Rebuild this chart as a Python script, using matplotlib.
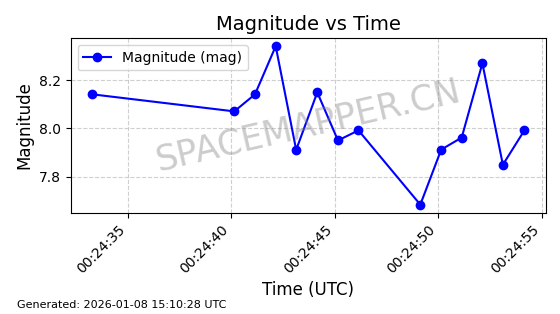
import matplotlib
matplotlib.use("Agg")
import matplotlib.pyplot as plt
import matplotlib.dates as mdates
from datetime import datetime, timedelta

# observation times (seconds after 00:24:00 UTC) and magnitudes
seconds = [33.28, 40.15, 41.15, 42.15, 43.14, 44.16, 45.16, 46.15,
           49.14, 50.15, 51.14, 52.14, 53.13, 54.17]
magnitudes = [8.142, 8.071, 8.142, 8.342, 7.911, 8.150, 7.950, 7.992,
              7.683, 7.912, 7.962, 8.271, 7.849, 7.992]

base = datetime(2026, 1, 8, 0, 24, 0)
times = [base + timedelta(seconds=s) for s in seconds]

fig, ax = plt.subplots(figsize=(5.6, 3.14), dpi=100)
ax.plot(times, magnitudes, marker='o', color='blue', markersize=6,
        linewidth=1.5, label='Magnitude (mag)')

ax.set_title('Magnitude vs Time', fontsize=14)
ax.set_xlabel('Time (UTC)', fontsize=12)
ax.set_ylabel('Magnitude', fontsize=12)
ax.grid(True, linestyle='--', alpha=0.6)
ax.legend(loc='upper left')

ax.xaxis.set_major_locator(mdates.SecondLocator(bysecond=range(0, 60, 5)))
ax.xaxis.set_major_formatter(mdates.DateFormatter('%H:%M:%S'))
plt.setp(ax.get_xticklabels(), rotation=45, ha='right')

ax.text(0.5, 0.5, 'SPACEMAPPER.CN', transform=ax.transAxes, fontsize=25,
        color='gray', alpha=0.4, rotation=13, ha='center', va='center')

fig.subplots_adjust(left=0.126, right=0.975, top=0.878, bottom=0.323)
fig.text(0.03, 0.02, 'Generated: 2026-01-08 15:10:28 UTC', fontsize=8)

fig.savefig('out.png', dpi=100)
